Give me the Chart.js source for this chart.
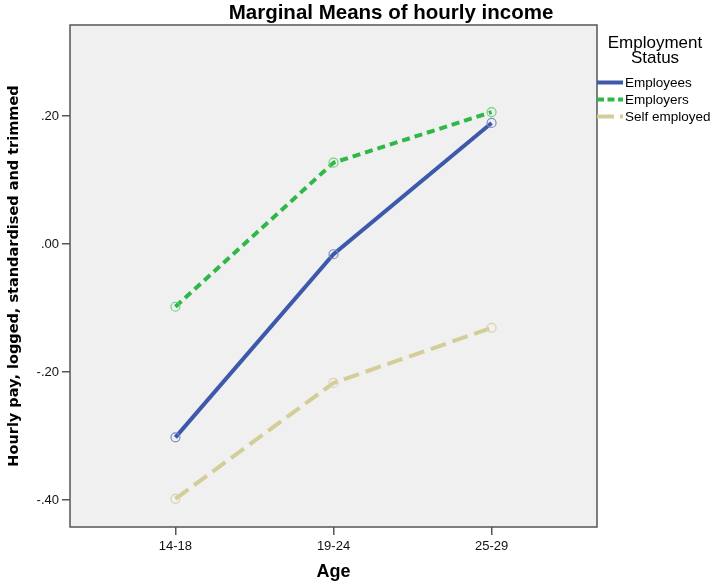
<!DOCTYPE html>
<html>
<head>
<meta charset="utf-8">
<script src="https://cdn.jsdelivr.net/npm/chart.js@4.4.0/dist/chart.umd.min.js"></script>
<style>
  html, body { margin: 0; padding: 0; background: #fff; }
  #wrap { width: 714px; height: 585px; }
</style>
</head>
<body>
<div id="wrap"><canvas id="grafico" width="714" height="585"></canvas></div>
<script>
// categorias del eje x (grupos de edad)
const edades = ['14-18', '19-24', '25-29'];

// medias marginales por estado de empleo
const employees = [-0.302, -0.016, 0.189];
const employers = [-0.098, 0.127, 0.206];
const selfEmployed = [-0.398, -0.217, -0.131];

// marcas del eje y
const yTicks = [-0.4, -0.2, 0.0, 0.2];

const series = [
  { label: 'Employees', data: employees, color: '#3E58AC', point: '#7d8cc8', dash: [], legendDash: [] },
  { label: 'Employers', data: employers, color: '#2EB848', point: '#6fd07f', dash: [8, 5], legendDash: [7, 3.5] },
  { label: 'Self employed', data: selfEmployed, color: '#D3CE97', point: '#d8d4a8', dash: [16, 7], legendDash: [17, 6] }
];

const fuente = '"Liberation Sans", Arial, sans-serif';

function fmt(v) {
  const s = Math.abs(v).toFixed(2).replace(/^0/, '');
  return (v < -1e-9 ? '-' : '') + s;
}

// fondo gris, marco, titulo y leyenda
const marcoPlugin = {
  id: 'marco',
  beforeDraw(chart) {
    const { ctx, chartArea: a } = chart;
    ctx.save();
    ctx.fillStyle = '#F0F0F0';
    ctx.fillRect(a.left, a.top, a.right - a.left, a.bottom - a.top);
    ctx.restore();
  },
  afterDraw(chart) {
    const { ctx, chartArea: a } = chart;
    ctx.save();
    ctx.strokeStyle = '#555555';
    ctx.lineWidth = 1.5;
    ctx.strokeRect(a.left, a.top, a.right - a.left, a.bottom - a.top);

    // titulo
    ctx.fillStyle = '#000';
    ctx.font = 'bold 20.5px ' + fuente;
    ctx.textAlign = 'center';
    ctx.textBaseline = 'middle';
    ctx.fillText('Marginal Means of hourly income', 391, 13.5);

    // leyenda a la derecha
    ctx.font = '17px ' + fuente;
    ctx.fillText('Employment', 655, 43);
    ctx.fillText('Status', 655, 58.5);
    ctx.font = '13.5px ' + fuente;
    ctx.textAlign = 'left';
    chart.data.datasets.forEach((ds, i) => {
      const y = 82.5 + i * 17;
      ctx.beginPath();
      ctx.strokeStyle = ds.borderColor;
      ctx.lineWidth = 4;
      ctx.setLineDash(series[i].legendDash);
      ctx.moveTo(597, y);
      ctx.lineTo(623, y);
      ctx.stroke();
      ctx.setLineDash([]);
      ctx.fillStyle = '#000';
      ctx.fillText(ds.label, 625, y + 0.5);
    });
    ctx.restore();
  }
};

new Chart(document.getElementById('grafico'), {
  type: 'line',
  data: {
    datasets: series.map(s => ({
      label: s.label,
      data: s.data.map((v, i) => ({ x: i, y: v })),
      borderColor: s.color,
      borderWidth: 4,
      borderDash: s.dash,
      pointRadius: 4.5,
      pointBorderWidth: 1.2,
      pointBorderColor: s.point,
      pointBackgroundColor: 'rgba(0,0,0,0)',
      tension: 0
    }))
  },
  options: {
    responsive: false,
    animation: false,
    layout: { padding: { top: 25, right: 117, bottom: 0, left: 0 } },
    plugins: {
      legend: { display: false },
      title: { display: false },
      tooltip: { enabled: false }
    },
    scales: {
      x: {
        type: 'linear',
        min: -0.667,
        max: 2.667,
        afterBuildTicks(scale) {
          scale.ticks = edades.map((e, i) => ({ value: i }));
        },
        afterFit(scale) { scale.height = 58; },
        ticks: {
          callback: v => edades[v],
          color: '#111',
          font: { family: fuente, size: 13 },
          padding: 4,
          maxRotation: 0
        },
        grid: { drawOnChartArea: false, drawTicks: true, tickLength: 8, color: '#555', lineWidth: 1.5 },
        border: { display: false },
        title: {
          display: true,
          text: 'Age',
          color: '#000',
          font: { family: fuente, size: 18, weight: 'bold' },
          padding: { top: 0, bottom: 2 }
        }
      },
      y: {
        min: -0.442,
        max: 0.342,
        afterBuildTicks(scale) {
          scale.ticks = yTicks.map(v => ({ value: v }));
        },
        afterFit(scale) { scale.width = 70; },
        ticks: {
          callback: v => fmt(v),
          color: '#111',
          font: { family: fuente, size: 13 },
          padding: 3
        },
        grid: { drawOnChartArea: false, drawTicks: true, tickLength: 8, color: '#555', lineWidth: 1.5 },
        border: { display: false },
        title: {
          display: true,
          text: 'Hourly pay, logged, standardised and trimmed',
          color: '#000',
          font: { family: '"DejaVu Sans", Verdana, sans-serif', size: 14.5, weight: 'bold' },
          padding: { top: 6, bottom: 0 }
        }
      }
    }
  },
  plugins: [marcoPlugin]
});
</script>
</body>
</html>
